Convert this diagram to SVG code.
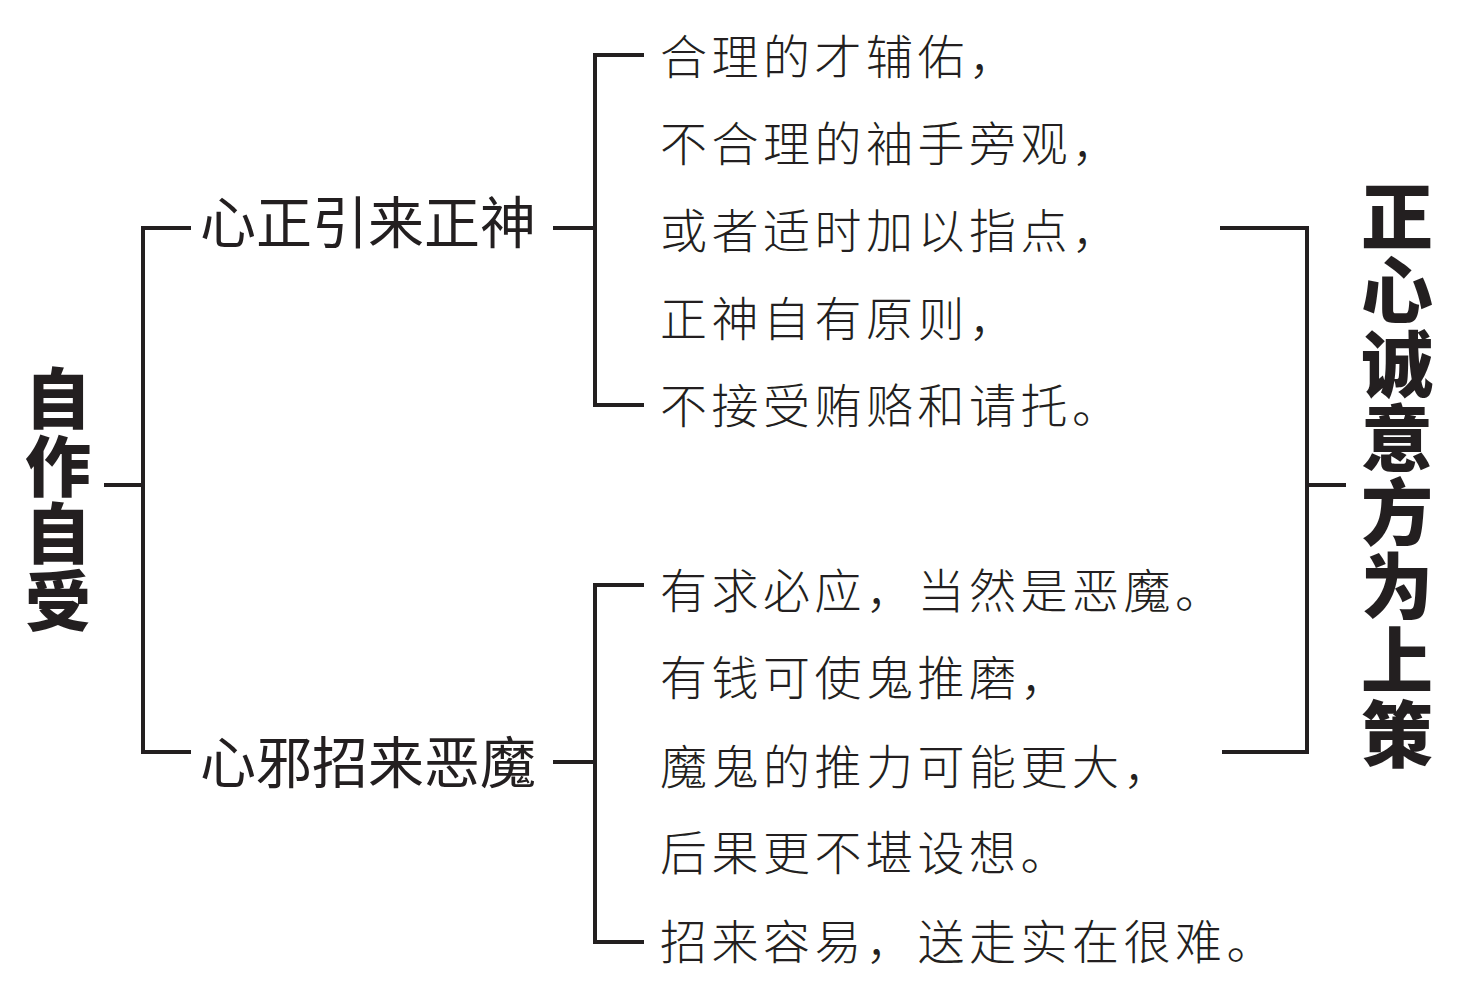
<svg xmlns="http://www.w3.org/2000/svg" width="1458" height="989" viewBox="0 0 1458 989">
<style>
.ln{stroke:#231f20;stroke-width:4;fill:none;stroke-linecap:butt;stroke-linejoin:miter}
.title{font-family:"Noto Sans CJK SC","Noto Sans",sans-serif;font-weight:900;fill:#231f20;writing-mode:vertical-rl}
.mid{font-family:"Noto Sans CJK SC","Noto Sans",sans-serif;font-weight:400;font-size:56px;fill:#231f20}
.body{font-family:"Noto Sans CJK SC","Noto Sans",sans-serif;font-weight:300;font-size:47px;letter-spacing:4.5px;fill:#231f20}
</style>
<rect width="1458" height="989" fill="#ffffff"/>
<g id="connectors">
<polyline class="ln" points="104,485 143,485"/>
<polyline class="ln" points="191,228 143,228 143,752 191,752"/>
<polyline class="ln" points="553,228 595,228"/>
<polyline class="ln" points="644,55 595,55 595,405 644,405"/>
<polyline class="ln" points="553,762 595,762"/>
<polyline class="ln" points="644,585 595,585 595,942 644,942"/>
<polyline class="ln" points="1220,228 1307,228 1307,752 1222,752"/>
<polyline class="ln" points="1307,485 1346,485"/>
</g>
<g id="node-left-title">
<text class="title" x="58" y="365" font-size="66" letter-spacing="1.7">自作自受</text>
</g>
<g id="node-zhengshen"><text class="mid" x="200" y="243">心正引来正神</text></g>
<g id="node-emo"><text class="mid" x="200" y="783">心邪招来恶魔</text></g>
<g id="node-upper-text" class="body">
<text x="660" y="74">合理的才辅佑，</text>
<text x="660" y="161">不合理的袖手旁观，</text>
<text x="660" y="248">或者适时加以指点，</text>
<text x="660" y="336">正神自有原则，</text>
<text x="660" y="423">不接受贿赂和请托。</text>
</g>
<g id="node-lower-text" class="body">
<text x="660" y="608">有求必应，当然是恶魔。</text>
<text x="660" y="695">有钱可使鬼推磨，</text>
<text x="660" y="784">魔鬼的推力可能更大，</text>
<text x="660" y="870">后果更不堪设想。</text>
<text x="660" y="959">招来容易，送走实在很难。</text>
</g>
<g id="node-right-title">
<text class="title" x="1397" y="180" font-size="72" letter-spacing="2">正心诚意方为上策</text>
</g>
</svg>
